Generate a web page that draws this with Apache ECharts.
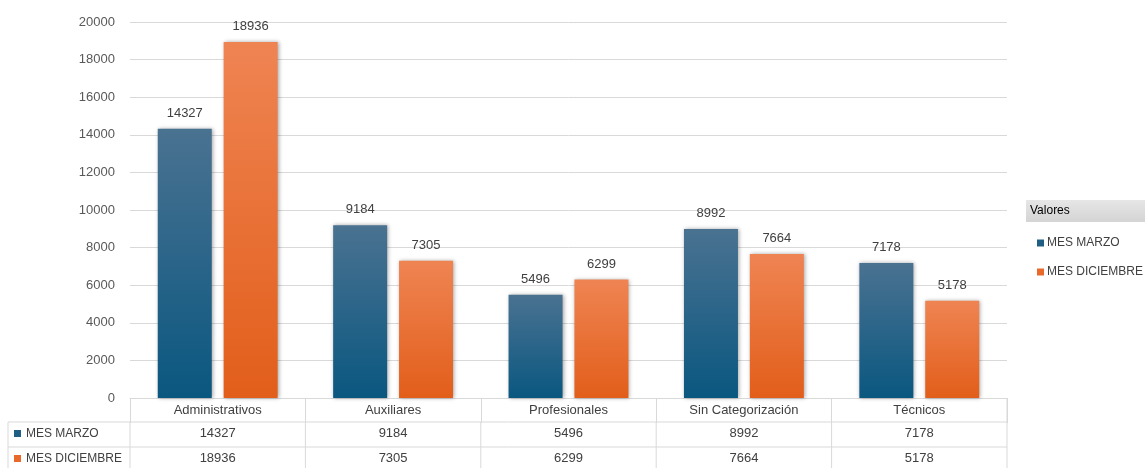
<!DOCTYPE html>
<html>
<head>
<meta charset="utf-8">
<script src="https://cdn.jsdelivr.net/npm/echarts@6/dist/echarts.min.js"></script>
<style>
  html, body { margin: 0; padding: 0; background: #fff; }
  #chart { width: 1145px; height: 468px; }
</style>
</head>
<body>
<div id="chart"></div>
<script>
// datos
const categorias = ['Administrativos', 'Auxiliares', 'Profesionales', 'Sin Categorización', 'Técnicos'];
const mesMarzo = [14327, 9184, 5496, 8992, 7178];
const mesDiciembre = [18936, 7305, 6299, 7664, 5178];
const nombres = ['MES MARZO', 'MES DICIEMBRE'];
const yTicks = { min: 0, max: 20000, interval: 2000 };

const FONT = '"Liberation Sans", Arial, sans-serif';
const colorMarzo = '#1f5f84';
const colorDic = '#e8692a';

const gradBlue = new echarts.graphic.LinearGradient(0, 0, 0, 1, [
  { offset: 0, color: '#4a7291' },
  { offset: 1, color: '#0a5780' }
]);
const gradOrange = new echarts.graphic.LinearGradient(0, 0, 0, 1, [
  { offset: 0, color: '#ef8453' },
  { offset: 1, color: '#e25e1a' }
]);

const chartDom = document.getElementById('chart');
const myChart = echarts.init(chartDom, null, { renderer: 'canvas' });

const labelCfg = {
  show: true,
  position: 'top',
  distance: 9,
  color: '#404040',
  fontSize: 13,
  fontFamily: FONT
};

const option = {
  animation: false,
  textStyle: { fontFamily: FONT },
  grid: { left: 130, right: 138, top: 22, bottom: 70, containLabel: false },
  legend: {
    orient: 'vertical',
    left: 1032,
    top: 232,
    itemWidth: 7,
    itemHeight: 7,
    itemGap: 17,
    icon: 'rect',
    textStyle: { color: '#404040', fontSize: 12, fontFamily: FONT, padding: [0, 0, 0, -2] },
    data: [
      { name: nombres[0], itemStyle: { color: colorMarzo } },
      { name: nombres[1], itemStyle: { color: colorDic } }
    ]
  },
  xAxis: {
    type: 'category',
    data: categorias,
    axisLine: { show: true, lineStyle: { color: '#d9d9d9' } },
    axisTick: { show: true, length: 25, lineStyle: { color: '#d9d9d9' } },
    axisLabel: { color: '#404040', fontSize: 13, margin: 6, fontFamily: FONT }
  },
  yAxis: {
    type: 'value',
    min: yTicks.min,
    max: yTicks.max,
    interval: yTicks.interval,
    axisLine: { show: false },
    axisTick: { show: false },
    axisLabel: {
      color: '#595959', fontSize: 13, margin: 15, fontFamily: FONT,
      formatter: (v) => String(v)
    },
    splitLine: { lineStyle: { color: '#d9d9d9' } }
  },
  series: [
    {
      name: nombres[0],
      type: 'bar',
      data: mesMarzo,
      barWidth: 54,
      barGap: '22%',
      itemStyle: {
        color: gradBlue,
        shadowBlur: 4,
        shadowColor: 'rgba(0,0,0,0.35)',
        shadowOffsetX: 1
      },
      label: labelCfg
    },
    {
      name: nombres[1],
      type: 'bar',
      data: mesDiciembre,
      barWidth: 54,
      itemStyle: {
        color: gradOrange,
        shadowBlur: 4,
        shadowColor: 'rgba(0,0,0,0.35)',
        shadowOffsetX: 1
      },
      label: labelCfg
    }
  ]
};

myChart.setOption(option);

// tabla de datos debajo del eje, a partir de las posiciones del eje
function buildTable() {
  const c0 = myChart.convertToPixel({ xAxisIndex: 0 }, 0);
  const c1 = myChart.convertToPixel({ xAxisIndex: 0 }, 1);
  const band = c1 - c0;
  const xLeft = c0 - band / 2;
  const xRight = xLeft + band * categorias.length;
  const y0 = myChart.convertToPixel({ yAxisIndex: 0 }, 0);
  const rowH = [24, 25, 25];
  const rowY = [y0, y0 + rowH[0], y0 + rowH[0] + rowH[1], y0 + rowH[0] + rowH[1] + rowH[2]];
  const tableLeft = 8;
  const lineStyle = { stroke: '#d9d9d9', lineWidth: 1 };
  const els = [];

  // lineas horizontales de filas
  for (let r = 1; r < rowY.length; r++) {
    els.push({ type: 'line', shape: { x1: tableLeft, y1: rowY[r], x2: xRight, y2: rowY[r] }, style: lineStyle, silent: true });
  }
  // verticales
  els.push({ type: 'line', shape: { x1: tableLeft, y1: rowY[1], x2: tableLeft, y2: rowY[3] }, style: lineStyle, silent: true });
  for (let i = 0; i <= categorias.length; i++) {
    const x = xLeft + band * i;
    els.push({ type: 'line', shape: { x1: x, y1: rowY[1], x2: x, y2: rowY[3] }, style: lineStyle, silent: true });
  }
  els.push({ type: 'line', shape: { x1: xRight, y1: rowY[0], x2: xRight, y2: rowY[1] }, style: lineStyle, silent: true });

  const filas = [mesMarzo, mesDiciembre];
  const colores = [colorMarzo, colorDic];
  filas.forEach((vals, r) => {
    const yc = (rowY[r + 1] + rowY[r + 2]) / 2 - 1;
    els.push({ type: 'rect', shape: { x: 14, y: yc - 3.5, width: 7, height: 7 }, style: { fill: colores[r] }, silent: true });
    els.push({
      type: 'text', x: 26, y: yc,
      style: { text: nombres[r], fill: '#404040', font: '12px ' + FONT, verticalAlign: 'middle', align: 'left' },
      silent: true
    });
    vals.forEach((v, i) => {
      els.push({
        type: 'text', x: myChart.convertToPixel({ xAxisIndex: 0 }, i), y: yc,
        style: { text: String(v), fill: '#404040', font: '13px ' + FONT, verticalAlign: 'middle', align: 'center' },
        silent: true
      });
    });
  });

  // cabecera de leyenda "Valores"
  els.push({
    type: 'rect', shape: { x: 1026, y: 200, width: 119, height: 22 },
    style: {
      fill: new echarts.graphic.LinearGradient(0, 0, 0, 1, [
        { offset: 0, color: '#e6e6e6' },
        { offset: 1, color: '#d4d4d4' }
      ])
    },
    silent: true
  });
  els.push({
    type: 'text', x: 1030, y: 211,
    style: { text: 'Valores', fill: '#000', font: '12px ' + FONT, verticalAlign: 'middle' },
    silent: true
  });

  myChart.setOption({ graphic: { elements: els } });
}

buildTable();
window.addEventListener('resize', () => {
  myChart.resize();
  buildTable();
});
</script>
</body>
</html>
